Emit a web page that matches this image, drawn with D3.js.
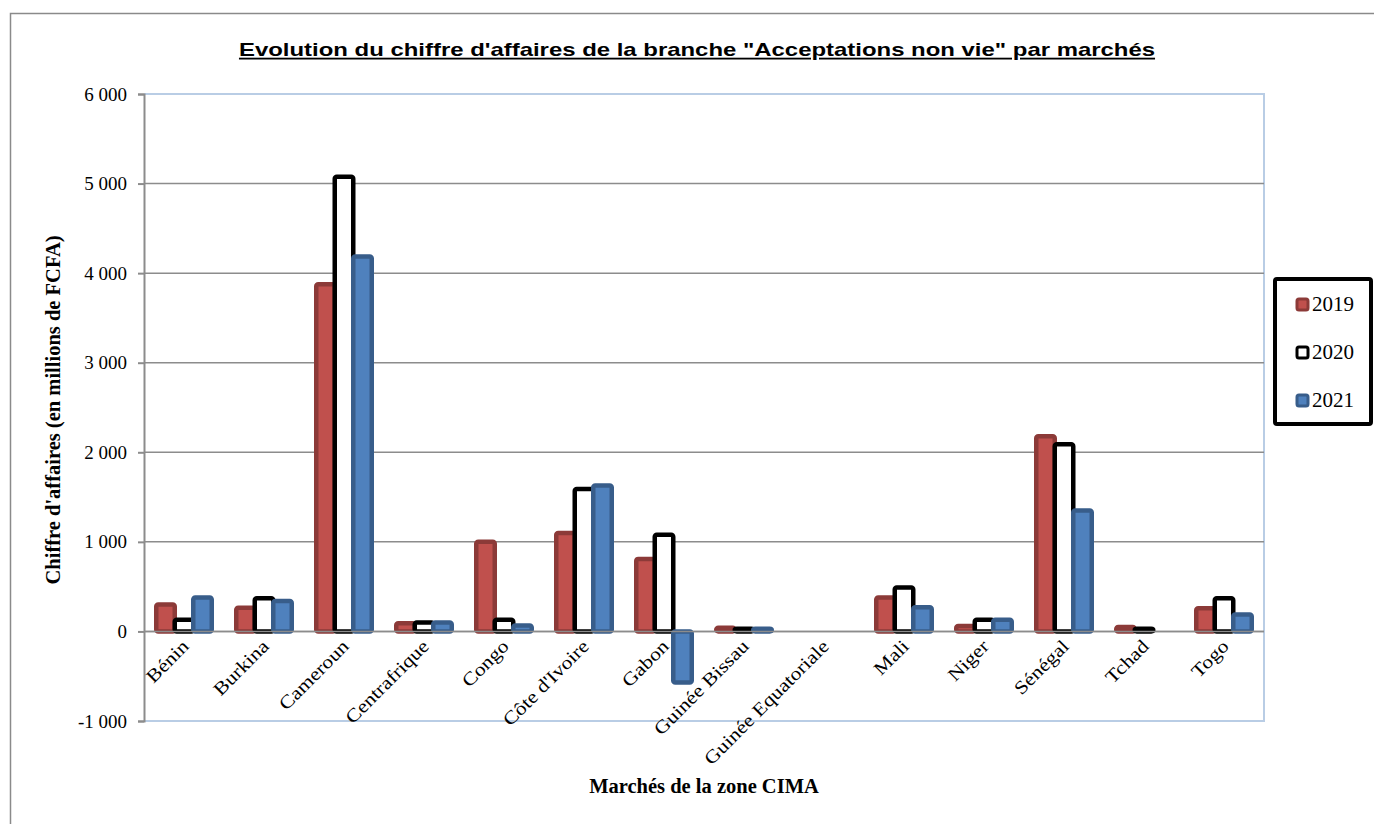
<!DOCTYPE html>
<html lang="fr">
<head>
<meta charset="UTF-8">
<title>Acceptations non vie par marchés</title>
<script src="https://cdnjs.cloudflare.com/ajax/libs/d3/7.8.5/d3.min.js"></script>
<style>
  body { margin: 0; background: #fff; }
  svg { display: block; }
  .serif { font-family: "Liberation Serif", "DejaVu Serif", serif; }
</style>
</head>
<body>
<svg id="chart" width="1374" height="824"></svg>
<script>
// data (millions de FCFA)
const marches = ["Bénin", "Burkina", "Cameroun", "Centrafrique", "Congo", "Côte d'Ivoire", "Gabon",
                 "Guinée Bissau", "Guinée Equatoriale", "Mali", "Niger", "Sénégal", "Tchad", "Togo"];
const annees = ["2019", "2020", "2021"];
const v2019 = [300, 265, 3875, 90, 1000, 1100, 810, 40, 0, 380, 60, 2180, 50, 260];
const v2020 = [130, 370, 5075, 100, 130, 1590, 1080, 30, 0, 490, 130, 2090, 30, 370];
const v2021 = [380, 340, 4185, 100, 65, 1630, -570, 30, 0, 270, 130, 1350, 0, 190];
const yTicks = [-1000, 0, 1000, 2000, 3000, 4000, 5000, 6000];

const series = [v2019, v2020, v2021];
const fills = ["#C0504D", "#FFFFFF", "#4F81BD"];
const strokes = ["#8C3A38", "#000000", "#385D8A"];

const svg = d3.select("#chart");
const m = { left: 144, right: 1264, top: 94, bottom: 721 };

// outer chart border
svg.append("rect").attr("x", 10.5).attr("y", 13.5).attr("width", 1400).attr("height", 900)
  .attr("fill", "none").attr("stroke", "#8a8a8a").attr("stroke-width", 1.5);

// title (the source font is wider, so stretch it a bit)
svg.append("text")
  .attr("transform", "translate(697,56) scale(1.33,1)").attr("text-anchor", "middle")
  .style("font-family", "'Liberation Sans', Arial, sans-serif")
  .style("font-size", "18px").style("font-weight", "bold")
  .style("text-decoration", "underline")
  .text("Evolution du chiffre d'affaires de la branche \"Acceptations non vie\" par marchés");

const x = d3.scaleBand().domain(marches).range([m.left, m.right]);
const y = d3.scaleLinear().domain([-1000, 6000]).range([m.bottom, m.top]);
const barW = 18.5;

// plot area border (top, right, bottom)
svg.append("path")
  .attr("d", `M${m.left},${m.top}H${m.right}V${m.bottom}H${m.left}`)
  .attr("fill", "none").attr("stroke", "#b9cde5").attr("stroke-width", 2);

// gridlines
svg.append("g").selectAll("line").data(yTicks.filter(t => t > -1000 && t < 6000)).join("line")
  .attr("x1", m.left).attr("x2", m.right)
  .attr("y1", d => y(d)).attr("y2", d => y(d))
  .attr("stroke", "#8c8c8c").attr("stroke-width", 1.5);

// y axis
const yAxis = d3.axisLeft(y).tickValues(yTicks).tickSize(6).tickPadding(11)
  .tickFormat(d => d3.format(",")(d).replace(/,/g, " ").replace("−", "-"));
const gy = svg.append("g").attr("transform", `translate(${m.left},0)`).call(yAxis);
gy.select(".domain").attr("stroke", "#8c8c8c").attr("stroke-width", 2);
gy.selectAll(".tick line").attr("stroke", "#8c8c8c").attr("stroke-width", 2);
gy.selectAll("text").attr("class", "serif").style("font-size", "19px").attr("fill", "#000");

// bars
series.forEach((vals, s) => {
  svg.append("g").selectAll("rect").data(vals.map((v, i) => ({ v, c: marches[i] })).filter(d => d.v !== 0))
    .join("rect")
    .attr("x", d => x(d.c) + x.bandwidth() / 2 + (s - 1.5) * barW)
    .attr("width", barW)
    .attr("y", d => y(Math.max(0, d.v)))
    .attr("height", d => Math.abs(y(d.v) - y(0)))
    .attr("rx", 2)
    .attr("fill", fills[s]).attr("stroke", strokes[s]).attr("stroke-width", 4.5);
});

// redraw zero line on top of bars
svg.append("line").attr("x1", m.left).attr("x2", m.right).attr("y1", y(0)).attr("y2", y(0))
  .attr("stroke", "#8c8c8c").attr("stroke-width", 1.5);

// category labels
svg.append("g").selectAll("text").data(marches).join("text")
  .attr("class", "serif")
  .attr("text-anchor", "end")
  .attr("transform", d => `translate(${x(d) + x.bandwidth() / 2 + 6},${y(0) + 16}) rotate(-45) scale(1.17,1)`)
  .style("font-size", "18.5px")
  .text(d => d);

// axis titles
svg.append("text").attr("class", "serif")
  .attr("transform", `translate(60,410) rotate(-90)`).attr("text-anchor", "middle")
  .style("font-size", "20.5px").style("font-weight", "bold")
  .text("Chiffre d'affaires (en millions de FCFA)");
svg.append("text").attr("class", "serif")
  .attr("x", 704).attr("y", 793).attr("text-anchor", "middle")
  .style("font-size", "20.5px").style("font-weight", "bold")
  .text("Marchés de la zone CIMA");

// legend
const lg = svg.append("g");
lg.append("rect").attr("x", 1275).attr("y", 279).attr("width", 96).attr("height", 145)
  .attr("fill", "#fff").attr("stroke", "#000").attr("stroke-width", 4).attr("rx", 2);
annees.forEach((a, i) => {
  const yy = 304 + i * 48;
  lg.append("rect").attr("x", 1297).attr("y", yy - 5).attr("width", 11).attr("height", 11).attr("rx", 2)
    .attr("fill", fills[i]).attr("stroke", strokes[i]).attr("stroke-width", 3);
  lg.append("text").attr("class", "serif").attr("x", 1312).attr("y", yy + 7)
    .style("font-size", "21px").text(a);
});
</script>
</body>
</html>
